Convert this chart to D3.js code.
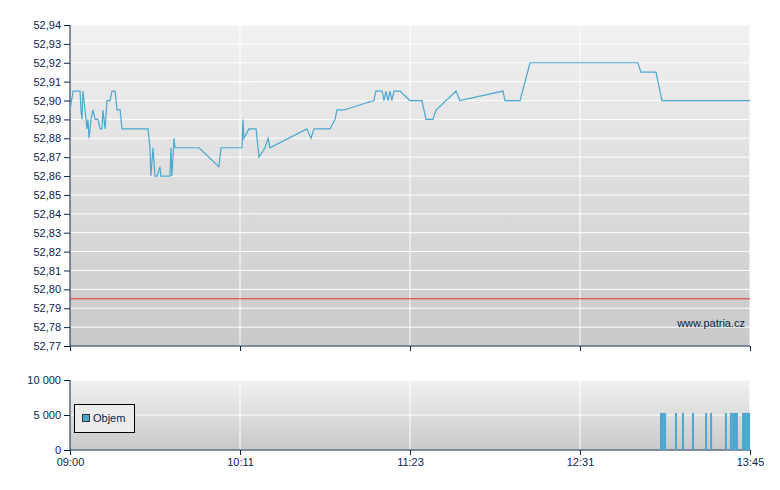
<!DOCTYPE html>
<html><head><meta charset="utf-8">
<script src="https://cdn.jsdelivr.net/npm/d3@7"></script>
<style>body{margin:0;background:#fff}text{font-family:"Liberation Sans",Arial,sans-serif;font-size:11px;fill:#0a2450}</style>
</head><body><svg id="c" width="780" height="490"></svg>
<script>
// minutes since 09:00 and price
const priceMin = [0,1.3,4.2,4.6,5,5.4,6.3,7.1,7.5,8,8.8,9.6,10.5,11.7,12.6,13.4,13.8,14.7,15.5,16.8,17.6,18.9,19.7,21,21.8,32.7,33.5,33.9,34.8,35.6,36.5,37.7,38.1,41.9,42.3,42.7,43.6,44,54.1,62.4,63.3,72.1,72.5,72.9,75,78,79.2,81.7,83,83.8,99.3,101,102.3,109,111.1,111.9,114.8,127.4,128.2,130.8,131.6,132.4,133.3,134.1,134.9,135.8,138.3,142.5,147.5,149.2,152.1,153.4,161.8,163.4,181.5,182.3,188.6,192.8,238,239.3,245.6,248.1,285];
const priceVal = [52.895,52.905,52.905,52.895,52.89,52.905,52.895,52.885,52.89,52.88,52.89,52.895,52.89,52.89,52.885,52.885,52.895,52.885,52.9,52.9,52.905,52.905,52.895,52.895,52.885,52.885,52.875,52.86,52.875,52.86,52.86,52.865,52.86,52.86,52.875,52.86,52.88,52.875,52.875,52.865,52.875,52.875,52.89,52.88,52.885,52.885,52.87,52.875,52.88,52.875,52.885,52.88,52.885,52.885,52.89,52.895,52.895,52.9,52.905,52.905,52.9,52.905,52.9,52.905,52.9,52.905,52.905,52.9,52.9,52.89,52.89,52.895,52.905,52.9,52.905,52.9,52.9,52.92,52.92,52.915,52.915,52.9,52.9];
const refPrice = 52.795;
const volMin = [247.7,248.5,249.4,254,256.9,261.1,266.6,268.7,274.9,277,277.9,278.7,279.5,282.1,282.9,283.8,284.6];
const volVal = [5300,5300,5300,5300,5300,5300,5300,5300,5300,5300,5300,5300,5300,5300,5300,5300,5300];
const xTicks = [0,71.25,142.5,213.75,285];
const xLabels = ["09:00","10:11","11:23","12:31","13:45"];
const yTicks = d3.range(52.77,52.945,0.01);
const volTicks = [0,5000,10000];

const svg = d3.select("#c");
const L = 70, R = 750;
const x = d3.scaleLinear().domain([0,285]).range([L,R]);
const y = d3.scaleLinear().domain([52.77,52.94]).range([346,25]);
const yv = d3.scaleLinear().domain([0,10000]).range([450,380]);
const navy = "#0a2450";

const defs = svg.append("defs");
const g = defs.append("linearGradient").attr("id","bg").attr("x1",0).attr("x2",0).attr("y1",0).attr("y2",1);
g.append("stop").attr("offset",0).attr("stop-color","#f1f1f1");
g.append("stop").attr("offset",1).attr("stop-color","#c9c9c9");

function panel(y0,y1,ys,ticks,fmt){
  svg.append("rect").attr("x",L).attr("y",y0).attr("width",R-L).attr("height",y1-y0).attr("fill","url(#bg)");
  svg.append("g").selectAll("line").data(ticks).join("line")
    .attr("x1",L).attr("x2",R).attr("y1",d=>ys(d)).attr("y2",d=>ys(d)).attr("stroke","#fff");
  svg.append("g").selectAll("line").data(xTicks.slice(1)).join("line")
    .attr("x1",d=>x(d)).attr("x2",d=>x(d)).attr("y1",y0).attr("y2",y1).attr("stroke","#fff");
  const ax = svg.append("g").attr("transform",`translate(${L},0)`)
    .call(d3.axisLeft(ys).tickValues(ticks).tickSize(6).tickPadding(3).tickFormat(fmt));
  ax.select(".domain").attr("stroke",navy).attr("d",`M0,${y0}V${y1}`);
  ax.selectAll(".tick line").attr("stroke",navy);
  ax.selectAll("text").attr("fill",navy).style("font-size","11px");
  const bx = svg.append("g").attr("transform",`translate(0,${y1})`)
    .call(d3.axisBottom(x).tickValues(xTicks).tickSize(5).tickFormat((d,i)=>y1>400?xLabels[i]:""));
  bx.select(".domain").attr("stroke",navy).attr("d",`M${L},0H${R}`);
  bx.selectAll(".tick line").attr("stroke",navy);
  bx.selectAll("text").attr("fill",navy).style("font-size","11px");
}
panel(25,346,y,yTicks,d=>d3.format(".2f")(d).replace(".",","));
panel(380,450,yv,volTicks,d=>d3.format(",")(d).replace(/,/g," "));

svg.append("line").attr("x1",L).attr("x2",R).attr("y1",y(refPrice)).attr("y2",y(refPrice)).attr("stroke","#e03030");
svg.append("path").datum(priceMin.map((m,i)=>[m,priceVal[i]]))
  .attr("d",d3.line().x(d=>x(d[0])).y(d=>y(d[1])))
  .attr("fill","none").attr("stroke","#4aa8d0").attr("stroke-width",1.2);
svg.append("text").attr("x",745).attr("y",327).attr("text-anchor","end").style("font-size","11px").text("www.patria.cz");

svg.append("g").selectAll("rect").data(volMin).join("rect")
  .attr("x",d=>x(d)-1).attr("width",2).attr("y",(d,i)=>yv(volVal[i])).attr("height",(d,i)=>450-yv(volVal[i]))
  .attr("fill","#4aa8d0");

const lg = svg.append("g");
lg.append("rect").attr("x",74.5).attr("y",404.5).attr("width",60).attr("height",28).attr("fill","#ececec").attr("stroke","#000");
lg.append("rect").attr("x",82.5).attr("y",414.5).attr("width",7).attr("height",7).attr("fill","#4aa8d0").attr("stroke","#333");
lg.append("text").attr("x",93).attr("y",422).style("font-size","11px").attr("fill","#000").text("Objem");
</script></body></html>
